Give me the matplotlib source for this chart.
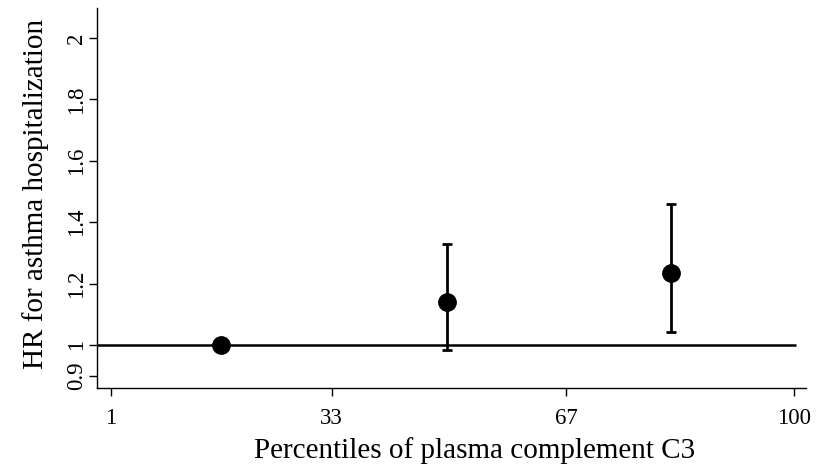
import matplotlib
matplotlib.use("Agg")
import matplotlib.pyplot as plt

# Hazard ratios by tertile of plasma complement C3
percentile_mid = [17.0, 49.7, 82.1]
hr = [1.00, 1.14, 1.233]
ci_low = [1.00, 0.984, 1.043]
ci_high = [1.00, 1.328, 1.459]

x_ticks = [1, 33, 67, 100]
y_ticks = [0.9, 1, 1.2, 1.4, 1.6, 1.8, 2]
y_tick_labels = ["0.9", "1", "1.2", "1.4", "1.6", "1.8", "2"]

plt.rcParams["font.family"] = ["Liberation Serif", "DejaVu Serif"]

fig = plt.figure(figsize=(8.2, 4.72), dpi=100)
ax = fig.add_axes([0.118, 0.179, 0.865, 0.804])

ax.set_xlim(-1.0, 101.7)
ax.set_ylim(0.861, 2.098)

# reference line at HR = 1
ax.hlines(1, -1.0, 100.2, color="black", linewidth=1.8, zorder=1)

err_lo = [h - l for h, l in zip(hr, ci_low)]
err_hi = [u - h for h, u in zip(hr, ci_high)]
ax.errorbar(percentile_mid, hr, yerr=[err_lo, err_hi], fmt="o", color="black",
            markersize=12.5, elinewidth=2.0, capsize=3.3, capthick=2.0, zorder=3)

for side in ("top", "right"):
    ax.spines[side].set_visible(False)
for side in ("left", "bottom"):
    ax.spines[side].set_linewidth(1.0)

ax.set_xticks(x_ticks)
ax.set_xticklabels([str(v) for v in x_ticks], fontsize=16.5)
ax.set_yticks(y_ticks)
ax.set_yticklabels(y_tick_labels, fontsize=16.5, rotation=90, va="center")
ax.tick_params(axis="both", direction="out", length=5.5, width=1.0, color="black")
ax.tick_params(axis="x", pad=9)
ax.tick_params(axis="y", pad=1.5)

ax.set_xlabel("Percentiles of plasma complement C3", fontsize=21, labelpad=6)
ax.set_ylabel("HR for asthma hospitalization", fontsize=21, labelpad=12)
ax.xaxis.label.set_x(0.532)
ax.yaxis.label.set_y(0.51)

fig.savefig("out.png", dpi=100)
